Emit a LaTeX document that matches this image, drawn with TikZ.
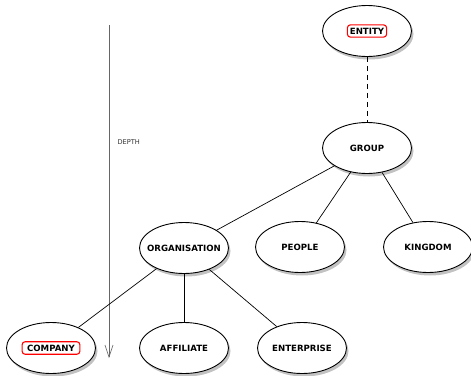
\documentclass[tikz,border=0pt]{standalone}
\usepackage{fontspec}
\setmainfont{DejaVu Sans}
\usetikzlibrary{shapes.geometric,shadows,arrows.meta}
\begin{document}
\begin{tikzpicture}[x=1pt,y=-1pt,
  ent/.style={ellipse,draw=black,line width=0.9pt,fill=white,minimum width=89pt,minimum height=51pt,
    inner xsep=-15pt,inner ysep=0pt,
    font=\bfseries\fontsize{8.6}{9}\selectfont,
    drop shadow={shadow xshift=2pt,shadow yshift=-3pt,opacity=0.4,fill=black!60}},
  redbox/.style={draw=red,line width=1.1pt,rounded corners=3pt,inner xsep=2.5pt,inner ysep=3pt,
    font=\bfseries\fontsize{8.6}{9}\selectfont},
  link/.style={line width=0.7pt}]
\useasboundingbox (0,0) rectangle (471,375);
\draw[gray!80!black,line width=0.6pt,-{Straight Barb[length=12pt,width=8pt,line width=0.6pt]}] (109,25) coordinate (as) -- (109,358) coordinate (ae);
\node[font=\fontsize{6.6}{7}\selectfont,anchor=west,text=black!80] (depth) at (114,142) {DEPTH};

\node[ent] (entity) at (367,31) {};
\node[redbox] (entitylbl) at (entity.center) {ENTITY};
\node[ent] (group) at (367,148) {GROUP};
\node[ent] (org) at (184,248) {ORGANISATION};
\node[ent] (people) at (300,247) {PEOPLE};
\node[ent] (kingdom) at (428,247) {KINGDOM};
\node[ent] (company) at (51,348) {};
\node[redbox,inner xsep=5pt] (companylbl) at (company.center) {COMPANY};
\node[ent] (affiliate) at (184,348) {AFFILIATE};
\node[ent] (enterprise) at (302,348) {ENTERPRISE};

\draw[link,dash pattern=on 5pt off 4pt] (entity) -- (group);
\draw[link] (group) -- (org);
\draw[link] (group) -- (people);
\draw[link] (group) -- (kingdom);
\draw[link] (org) -- (company);
\draw[link] (org) -- (affiliate);
\draw[link] (org) -- (enterprise);
\end{tikzpicture}
\end{document}
